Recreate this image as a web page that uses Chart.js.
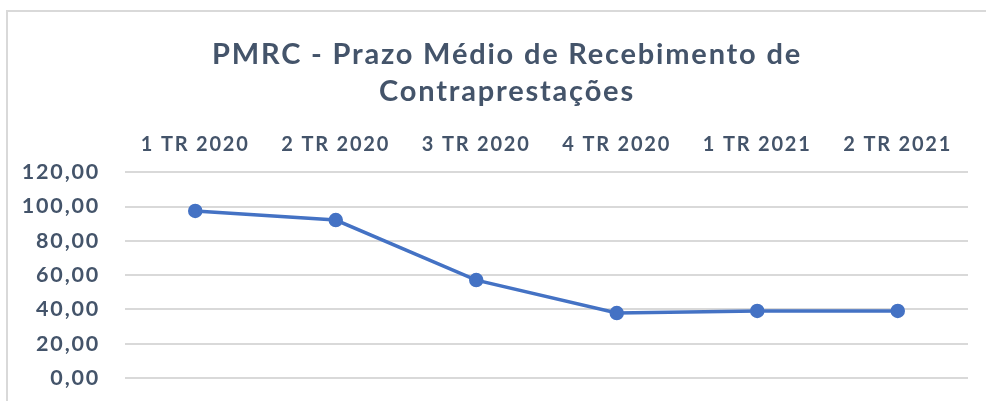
<!DOCTYPE html>
<html>
<head>
<meta charset="utf-8">
<script src="https://cdn.jsdelivr.net/npm/chart.js@4/dist/chart.umd.min.js"></script>
<style>
  html, body { margin: 0; padding: 0; background: #fff; overflow: hidden; }
  #frame {
    position: absolute; left: 6px; top: 10px; right: 0; bottom: 0;
    border-left: 2px solid #d9d9d9; border-top: 2px solid #d9d9d9;
  }
  #pmrc { position: absolute; left: 0; top: 0; }
</style>
</head>
<body>
<div id="frame"></div>
<canvas id="pmrc" width="986" height="401"></canvas>
<script>
//===========================================================================================
// ~~ DADOS ~~
var trimestres = ["1 TR 2020", "2 TR 2020", "3 TR 2020", "4 TR 2020", "1 TR 2021", "2 TR 2021"];
var prazoMedio = [97.4, 92.1, 57.1, 37.9, 39.1, 39.1];
var tituloLinhas = ["PMRC - Prazo Médio de Recebimento de", "Contraprestações"];

var corTexto = "#44546A";
var corLinha = "#4472C4";

// texto mais espaçado, parecido com a fonte original
// (o canvas perde o letterSpacing quando é redimensionado, por isso antes do layout e do draw)
var espacamento = {
  id: 'espacamento',
  beforeLayout: function(chart) { chart.ctx.letterSpacing = '1.8px'; },
  beforeDraw: function(chart) { chart.ctx.letterSpacing = '1.8px'; },
  // titulo do original fica um pouco a direita do centro do canvas
  afterLayout: function(chart) {
    if (chart.titleBlock) { chart.titleBlock.left += 30; }
  }
};

//===========================================================================================
// ~~ GRAFICO DE LINHA ~~
function drawLine(where) {
  new Chart(where, {
    type: 'line',
    plugins: [espacamento],
    data: {
      labels: trimestres,
      datasets: [{
        label: "PMRC",
        data: prazoMedio,
        borderColor: corLinha,
        backgroundColor: corLinha,
        borderWidth: 3.5,
        pointRadius: 5.5,
        pointHoverRadius: 5.5,
        tension: 0
      }]
    },
    options: {
      responsive: false,
      animation: false,
      layout: { padding: { left: 16, right: 18, top: 36, bottom: 23 } },
      plugins: {
        legend: { display: false },
        tooltip: { enabled: false },
        title: {
          display: true,
          text: tituloLinhas,
          color: corTexto,
          font: { family: 'Lato', size: 29, weight: 'bold', lineHeight: 1.28 },
          padding: { top: 0, bottom: 6 }
        }
      },
      scales: {
        x: {
          position: 'top',
          offset: true,
          grid: { display: false, drawTicks: false },
          border: { display: false },
          ticks: {
            color: corTexto,
            padding: 16,
            maxRotation: 0,
            font: { family: 'Lato', size: 20, weight: 'bold' }
          }
        },
        y: {
          min: 0,
          max: 120,
          afterFit: function(scale) { scale.width = 109; },
          // espaco entre rotulo e grade feito com tick invisivel (padding aumentaria a margem de baixo)
          grid: { color: '#d9d9d9', lineWidth: 2, drawTicks: true, tickLength: 25, tickColor: 'rgba(0,0,0,0)' },
          border: { display: false },
          ticks: {
            stepSize: 20,
            color: corTexto,
            padding: 0,
            font: { family: 'Lato', size: 21.5, weight: 'bold' },
            callback: function(v) { return v.toFixed(2).replace('.', ','); }
          }
        }
      }
    }
  });
}

drawLine(document.getElementById('pmrc'));
</script>
</body>
</html>
